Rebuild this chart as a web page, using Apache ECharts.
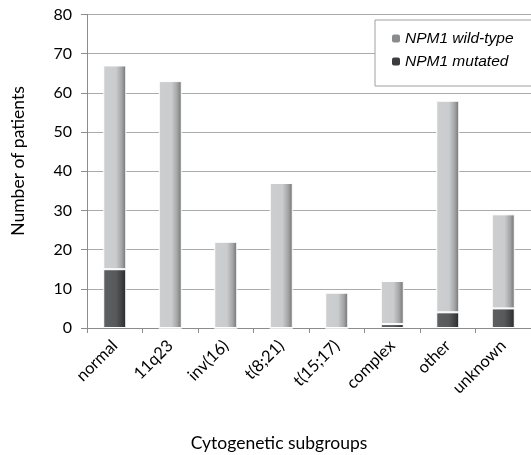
<!DOCTYPE html>
<html><head><meta charset="utf-8">
<script src="https://cdn.jsdelivr.net/npm/echarts@6/dist/echarts.min.js"></script>
<style>html,body{margin:0;padding:0;background:#fff}#c{width:531px;height:455px}</style>
</head><body><div id="c"></div>
<script>
const categories = ['normal','11q23','inv(16)','t(8;21)','t(15;17)','complex','other','unknown'];
const mutated = [15, 0, 0, 0, 0, 1, 4, 5];
const wildType = [52, 63, 22, 37, 9, 11, 54, 24];
const yTicks = [0,10,20,30,40,50,60,70,80];

const font = 'Lato, "Open Sans", sans-serif';
const chart = echarts.init(document.getElementById('c'), null, {renderer:'canvas'});
const lightGrad = new echarts.graphic.LinearGradient(0,0,1,0,[
  {offset:0,color:'#cdced0'},{offset:0.55,color:'#cbccce'},{offset:0.8,color:'#a4a5a7'},{offset:1,color:'#6e6f71'}]);
const darkGrad = new echarts.graphic.LinearGradient(0,0,1,0,[
  {offset:0,color:'#5e5f61'},{offset:0.55,color:'#58595b'},{offset:0.8,color:'#404143'},{offset:1,color:'#262627'}]);
chart.setOption({
  animation:false,
  grid:{left:87, top:14.5, width:452, height:313.5, containLabel:false},
  legend:{
    left:375, top:20, orient:'vertical', itemGap:6, itemWidth:8, itemHeight:8,
    padding:[10,40,16,17], itemStyle:{borderWidth:0},
    backgroundColor:'#fff', borderColor:'#a0a0a0', borderWidth:1,
    textStyle:{fontFamily:'"Liberation Sans", Arial, sans-serif', fontStyle:'italic', fontSize:15.5, color:'#000', lineHeight:17},
    data:[{name:'NPM1 wild-type', itemStyle:{color:'#8a8b8d'}},{name:'NPM1 mutated', itemStyle:{color:'#3c3c3e'}}]
  },
  xAxis:{
    type:'category', data:categories,
    axisLine:{lineStyle:{color:'#8c8c8c'}},
    axisTick:{show:true, alignWithLabel:false, length:5, lineStyle:{color:'#8c8c8c'}},
    axisLabel:{rotate:45, fontFamily:font, fontSize:16.5, color:'#000', margin:15, interval:0}
  },
  yAxis:{
    type:'value', min:0, max:80, interval:10,
    axisLine:{show:true, lineStyle:{color:'#8c8c8c'}},
    axisTick:{show:true, length:6, lineStyle:{color:'#8c8c8c'}},
    splitLine:{lineStyle:{color:'#ababab', width:1}},
    axisLabel:{fontFamily:font, fontSize:16, color:'#000', margin:15,
      formatter:v=>yTicks.includes(v)?String(v):''}
  },
  graphic:[
    {type:'text', x:18, y:161, rotation:Math.PI/2, style:{text:'Number of patients', fontFamily:font, fontSize:17.5, fill:'#000', textAlign:'center', textVerticalAlign:'middle'}},
    {type:'text', x:279, y:443, style:{text:'Cytogenetic subgroups', fontFamily:font, fontSize:17.5, fill:'#000', textAlign:'center', textVerticalAlign:'middle'}}
  ],
  series:[
    {name:'NPM1 mutated', type:'bar', stack:'s', data:mutated, barWidth:23,
     itemStyle:{color:darkGrad, borderColor:'#fff', borderWidth:1}},
    {name:'NPM1 wild-type', type:'bar', stack:'s', data:wildType, barWidth:23,
     itemStyle:{color:lightGrad, borderColor:'#fff', borderWidth:1}}
  ]
});
</script></body></html>
